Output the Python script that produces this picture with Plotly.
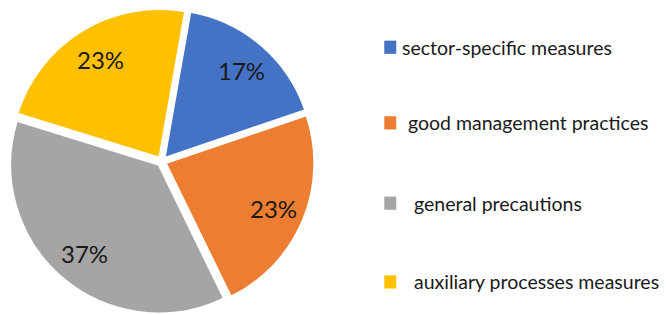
import math
import plotly.graph_objects as go

labels = ["sector-specific measures", "good management practices",
          "general precautions", "auxiliary processes measures"]
values = [17, 23, 37, 23]
colors = ["#4472C4", "#ED7D31", "#A5A5A5", "#FFC000"]

W, H = 666, 315
ROT = 10
CX, CY, R = 163, 162, 150  # pie centre / radius in pixels (layout)

fig = go.Figure()
fig.add_trace(go.Pie(
    labels=labels, values=values, sort=False, direction="clockwise",
    rotation=ROT,
    marker=dict(colors=colors, line=dict(color="white", width=2)),
    pull=[0.03] * len(values),
    textinfo="none",
    domain=dict(x=[0.013, 0.4725], y=[0.0, 0.975]),
    showlegend=False, hoverinfo="label+percent",
))

# percentage labels along each slice's mid-angle
total = sum(values)
cum = 0
for v in values:
    mid = math.radians(ROT + (cum + v / 2) / total * 360)
    cum += v
    px = CX + 0.8 * R * math.sin(mid)
    py = CY - 0.8 * R * math.cos(mid)
    fig.add_annotation(x=px / W, y=1 - py / H, xref="paper", yref="paper",
                       xanchor="center", yanchor="middle",
                       text=f"{round(v / total * 100)}%", showarrow=False,
                       font=dict(family="Lato", size=24, color="#1a1a1a"))

# legend drawn manually
leg_y = [0.85, 0.61, 0.355, 0.105]
leg_text_x = [0.601, 0.61, 0.618, 0.618]
for lab, col, y, tx in zip(labels, colors, leg_y, leg_text_x):
    fig.add_shape(type="rect", xref="paper", yref="paper",
                  x0=0.577, x1=0.595, y0=y - 0.021, y1=y + 0.021,
                  fillcolor=col, line=dict(width=0))
    fig.add_annotation(x=tx, y=y, xref="paper", yref="paper",
                       text=lab, showarrow=False, xanchor="left", yanchor="middle",
                       font=dict(family="Lato", size=19.5, color="#1a1a1a"))

fig.update_layout(width=W, height=H, margin=dict(l=0, r=0, t=0, b=0),
                  paper_bgcolor="white", plot_bgcolor="white")
fig.write_html("out.html", config={"displayModeBar": False},
               post_script="document.body.style.margin='0';")
